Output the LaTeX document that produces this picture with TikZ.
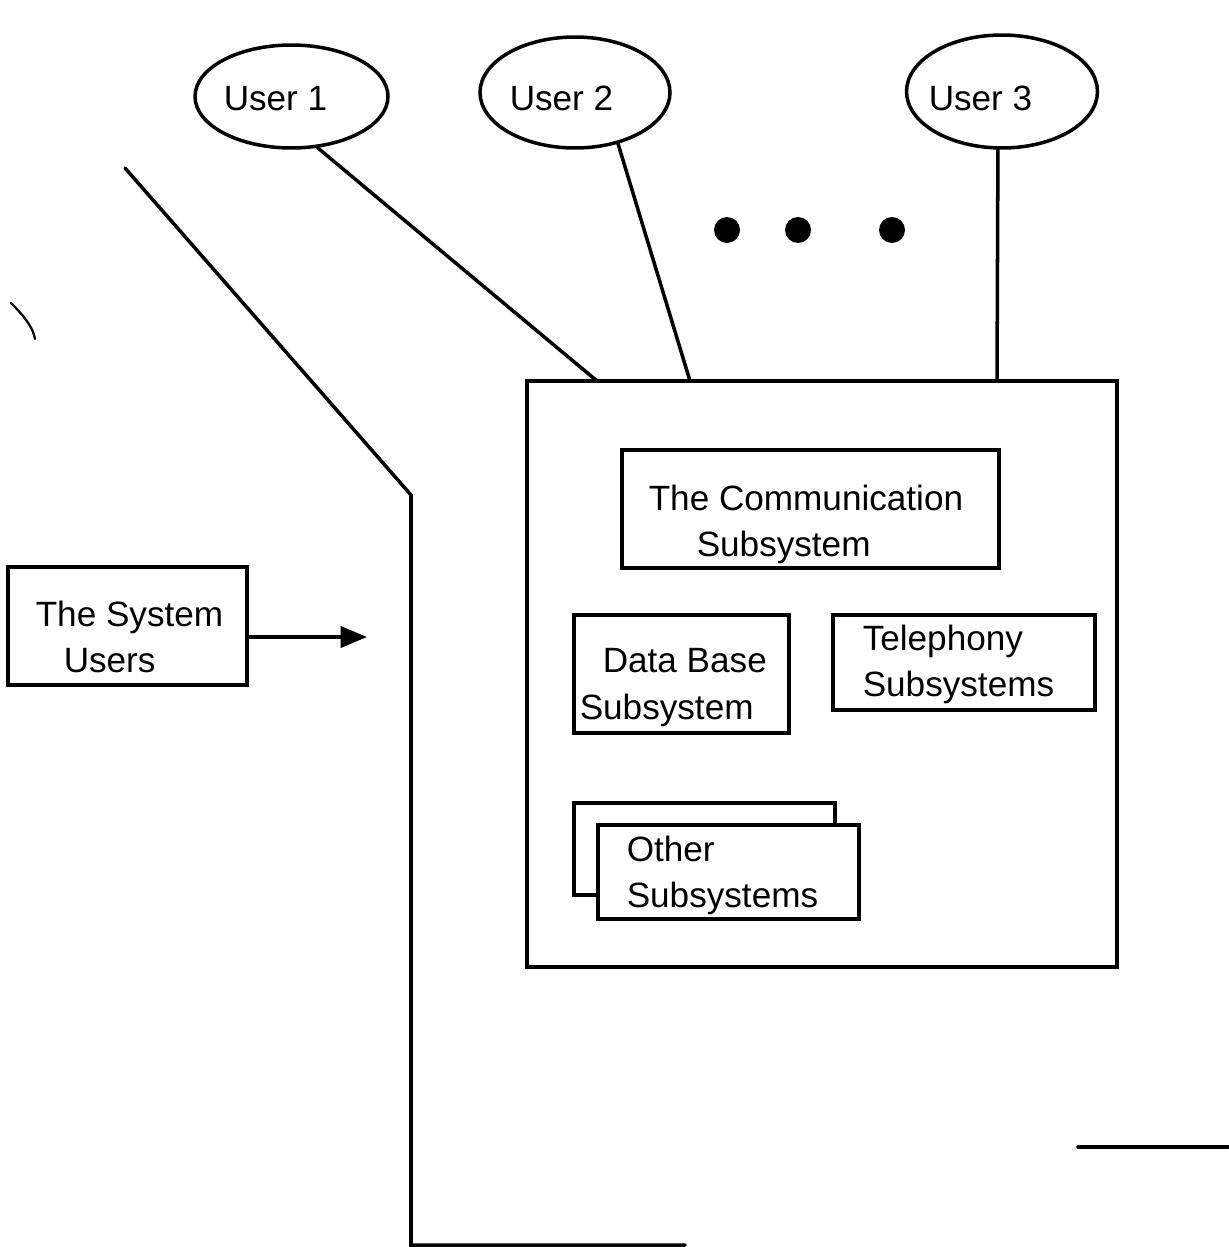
\documentclass[tikz,border=0pt]{standalone}
\usepackage{fontspec}
\setmainfont{Liberation Sans}
\usetikzlibrary{arrows.meta, shapes.geometric}

\begin{document}
\begin{tikzpicture}[
  x=0.02cm, y=-0.02cm, line width=2pt, line cap=round,
  lbl/.style={font=\fontsize{20}{26.4}\selectfont, inner sep=0pt, align=left},
  userell/.style={draw, ellipse, inner sep=0pt},
  subbox/.style={draw, fill=white, rectangle, inner sep=0pt},
  bigdot/.style={circle, fill, inner sep=0pt, minimum size=0.52cm},
  feed/.style={-{Triangle[length=15pt, width=12pt]}},
]

\path[use as bounding box] (0,0) rectangle (1228,1247);

% Users
\node[userell, minimum width=3.86cm, minimum height=2.06cm] (u1) at (291.5,96.5) {};
\node[userell, minimum width=3.80cm, minimum height=2.22cm] (u2) at (575,92.5) {};
\node[userell, minimum width=3.82cm, minimum height=2.26cm] (u3) at (1002,91.5) {};
\node[lbl, anchor=base west] (u1lbl) at (222,111) {User 1};
\node[lbl, anchor=base west] (u2lbl) at (508,111) {User 2};
\node[lbl, anchor=base west] (u3lbl) at (927,111) {User 3};
\foreach \dx [count=\i] in {727,798,892} {
  \node[bigdot] (d\i) at (\dx,230) {};
}

% System
\node[subbox, minimum width=11.80cm, minimum height=11.72cm] (sys) at (822,674) {};
\coordinate (j1) at (597,381);
\coordinate (j2) at (690,381);
\coordinate (j3) at (997,381);
\draw (u1.-63) -- (j1);
\draw (u2.-50) -- (j2);
\draw (u3.-94) -- (j3);

\node[subbox, minimum width=7.54cm, minimum height=2.36cm] (comm) at (810.5,509) {};
\node[lbl, anchor=north west] (commlbl) at (647,483)
  {The Communication\\\hspace*{0.96cm}Subsystem};
\node[subbox, minimum width=4.30cm, minimum height=2.36cm] (db) at (681.5,674) {};
\node[lbl, anchor=north west] (dblbl) at (578,647)
  {\hspace*{0.46cm}Data Base\\Subsystem};
\node[subbox, minimum width=5.24cm, minimum height=1.90cm] (tel) at (964,662.5) {};
\node[lbl, anchor=north west] (tellbl) at (861,623) {Telephony\\Subsystems};
\node[subbox, minimum width=5.22cm, minimum height=1.84cm] (othb) at (704.5,849) {};
\node[subbox, minimum width=5.22cm, minimum height=1.88cm] (oth) at (728.5,872) {};
\node[lbl, anchor=north west] (othlbl) at (625,834) {Other\\Subsystems};

% System users
\node[subbox, minimum width=4.78cm, minimum height=2.36cm] (usr) at (127.5,626) {};
\node[lbl, anchor=north west] (usrlbl) at (34,599)
  {The System\\\hspace*{0.56cm}Users};
\coordinate (tip) at (367,637);
\draw[feed] (usr.east |- tip) -- (tip);

% Boundary
\draw[line join=miter] (125,168) -- (411,495) -- (411,1245) -- (685,1245);
\draw (1078,1147) -- (1228,1147);
\draw[line width=1.3pt] (11,303) .. controls (24,316) and (33,327) .. (35,339);

\end{tikzpicture}
\end{document}
